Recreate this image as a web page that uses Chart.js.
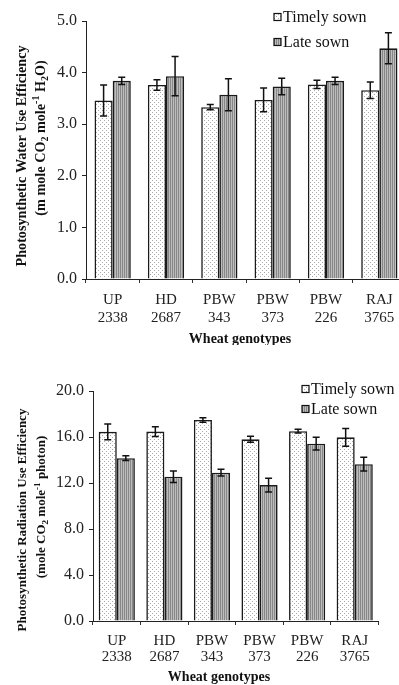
<!DOCTYPE html>
<html>
<head>
<meta charset="utf-8">
<script src="https://cdn.jsdelivr.net/npm/chart.js@4.4.0/dist/chart.umd.min.js"></script>
<style>
html, body { margin:0; padding:0; background:#fff; overflow:hidden; width:399px; height:685px; }
#c1 { position:absolute; left:0; top:0; }
#c2 { position:absolute; left:0; top:345px; }
</style>
</head>
<body>
<canvas id="c1" width="410" height="345"></canvas>
<canvas id="c2" width="399" height="340"></canvas>
<script>
// data
const genotypes = [['UP', '2338'], ['HD', '2687'], ['PBW', '343'], ['PBW', '373'], ['PBW', '226'], ['RAJ', '3765']];
const seriesNames = ['Timely sown', 'Late sown'];

// water use efficiency
const wueTimely = [3.46, 3.76, 3.33, 3.47, 3.77, 3.66];
const wueLate = [3.84, 3.93, 3.57, 3.73, 3.84, 4.47];
const wueTimelyErr = [0.30, 0.10, 0.05, 0.23, 0.08, 0.16];
const wueLateErr = [0.07, 0.38, 0.31, 0.16, 0.07, 0.30];

// radiation use efficiency
const rueTimely = [16.45, 16.47, 17.48, 15.80, 16.51, 15.97];
const rueLate = [14.16, 12.55, 12.90, 11.82, 15.42, 13.64];
const rueTimelyErr = [0.68, 0.43, 0.20, 0.26, 0.16, 0.78];
const rueLateErr = [0.20, 0.50, 0.30, 0.60, 0.56, 0.60];

const serif = "'Liberation Serif', 'Times New Roman', serif";

// fill patterns: dotted white and striped gray
const tmp = document.createElement('canvas').getContext('2d');
function dotPattern() {
    const c = document.createElement('canvas');
    c.width = 4; c.height = 4;
    const g = c.getContext('2d');
    g.fillStyle = '#ffffff'; g.fillRect(0, 0, 4, 4);
    g.fillStyle = '#a8a8a8';
    g.fillRect(0, 0, 1, 1); g.fillRect(2, 2, 1, 1);
    return tmp.createPattern(c, 'repeat');
}
function stripePattern() {
    const c = document.createElement('canvas');
    c.width = 2; c.height = 2;
    const g = c.getContext('2d');
    g.fillStyle = '#bdbdbd'; g.fillRect(0, 0, 2, 2);
    g.fillStyle = '#878787'; g.fillRect(0, 0, 1, 2);
    return tmp.createPattern(c, 'repeat');
}
const dotPat = dotPattern();
const stripePat = stripePattern();

// ===========================
// Error bars
// ===========================
const errorBars = {
    id: 'errorBars',
    afterDatasetsDraw(chart) {
        const ctx = chart.ctx, y = chart.scales.y;
        ctx.save();
        ctx.strokeStyle = '#111';
        ctx.lineWidth = 1.5;
        chart.data.datasets.forEach((ds, i) => {
            chart.getDatasetMeta(i).data.forEach((bar, j) => {
                const top = y.getPixelForValue(ds.data[j] + ds.errors[j]);
                const bot = y.getPixelForValue(ds.data[j] - ds.errors[j]);
                ctx.beginPath();
                ctx.moveTo(bar.x, top); ctx.lineTo(bar.x, bot);
                ctx.moveTo(bar.x - 3.5, top); ctx.lineTo(bar.x + 3.5, top);
                ctx.moveTo(bar.x - 3.5, bot); ctx.lineTo(bar.x + 3.5, bot);
                ctx.stroke();
            });
        });
        ctx.restore();
    }
};

// ===========================
// Titles + legend (rich text with sub/superscripts)
// ===========================
function drawRich(ctx, parts, cx, cy, size, rotate) {
    ctx.save();
    ctx.translate(cx, cy);
    if (rotate) ctx.rotate(-Math.PI / 2);
    ctx.fillStyle = '#111';
    ctx.textBaseline = 'middle';
    ctx.textAlign = 'left';
    let total = 0;
    parts.forEach(p => {
        ctx.font = 'bold ' + (p.s ? size * 0.7 : size) + 'px ' + serif;
        p.w = ctx.measureText(p.t).width;
        total += p.w;
    });
    let x = -total / 2;
    parts.forEach(p => {
        ctx.font = 'bold ' + (p.s ? size * 0.7 : size) + 'px ' + serif;
        const dy = p.s === 'sub' ? size * 0.3 : p.s === 'sup' ? -size * 0.35 : 0;
        ctx.fillText(p.t, x, dy);
        x += p.w;
    });
    ctx.restore();
}

const annot = {
    id: 'annot',
    afterDraw(chart, args, o) {
        const ctx = chart.ctx;
        drawRich(ctx, [{ t: o.yTitle1 }], o.t1x, o.t1y, o.tSize, true);
        drawRich(ctx, o.yTitle2, o.t2x, o.t2y, o.tSize, true);
        drawRich(ctx, [{ t: 'Wheat genotypes' }], o.xtx, o.xty, 14, false);

        // legend
        const fills = [dotPat, stripePat];
        ctx.save();
        ctx.font = '16px ' + serif;
        ctx.textBaseline = 'middle';
        ctx.fillStyle = '#111';
        seriesNames.forEach((name, i) => {
            const ly = o.ly + i * o.lgap;
            ctx.fillStyle = fills[i];
            ctx.fillRect(o.lx, ly - 3.5, 7, 7);
            ctx.strokeStyle = '#111';
            ctx.lineWidth = 1.2;
            ctx.strokeRect(o.lx, ly - 3.5, 7, 7);
            ctx.fillStyle = '#111';
            ctx.fillText(name, o.lx + 9, ly + 1);
        });
        ctx.restore();
    }
};

// ===========================
// Chart builder
// ===========================
function makeChart(id, timely, late, tErr, lErr, cfg) {
    return new Chart(document.getElementById(id), {
        type: 'bar',
        data: {
            labels: genotypes,
            datasets: [
                { label: seriesNames[0], data: timely, errors: tErr, backgroundColor: dotPat, borderColor: '#1a1a1a', borderWidth: 1.6 },
                { label: seriesNames[1], data: late, errors: lErr, backgroundColor: stripePat, borderColor: '#1a1a1a', borderWidth: 1.6 }
            ]
        },
        options: {
            responsive: false,
            animation: false,
            layout: { padding: { top: cfg.top, right: cfg.right, left: 0, bottom: 0 } },
            datasets: { bar: { categoryPercentage: cfg.catPct, barPercentage: 1 } },
            plugins: { legend: { display: false }, tooltip: { enabled: false }, annot: cfg },
            scales: {
                x: {
                    grid: { drawOnChartArea: false, tickLength: 4, color: '#333' },
                    border: { color: '#222', width: 1 },
                    ticks: { font: { family: serif, size: 15, lineHeight: cfg.xLine }, color: '#222', padding: cfg.xPad, maxRotation: 0, autoSkip: false },
                    afterFit(s) { s.height = cfg.xH; }
                },
                y: {
                    min: 0, max: cfg.max,
                    grid: { drawOnChartArea: false, tickLength: 4, color: '#222' },
                    border: { color: '#222', width: 1 },
                    ticks: { stepSize: cfg.step, callback: v => v.toFixed(1), font: { family: serif, size: 16 }, color: '#222', padding: 5 },
                    afterFit(s) { s.width = cfg.yW; }
                }
            }
        },
        plugins: [errorBars, annot]
    });
}

makeChart('c1', wueTimely, wueLate, wueTimelyErr, wueLateErr, {
    top: 21, right: 4, yW: 86, xH: 66, catPct: 0.68, max: 5, step: 1, xLine: 1.2, xPad: 8,
    yTitle1: 'Photosynthetic Water Use Efficiency',
    yTitle2: [{ t: '(m mole CO' }, { t: '2', s: 'sub' }, { t: ' mole' }, { t: '-1', s: 'sup' }, { t: ' H' }, { t: '2', s: 'sub' }, { t: 'O)' }],
    tSize: 14.2, t1x: 22, t1y: 156, t2x: 41, t2y: 138,
    xtx: 240, xty: 339,
    lx: 274, ly: 17, lgap: 25
});

makeChart('c2', rueTimely, rueLate, rueTimelyErr, rueLateErr, {
    top: 46, right: 20.5, yW: 93, xH: 64, catPct: 0.76, max: 20, step: 4, xLine: 1.05, xPad: 8,
    yTitle1: 'Photosynthetic Radiation Use Efficiency',
    yTitle2: [{ t: '(mole CO' }, { t: '2', s: 'sub' }, { t: ' mole' }, { t: '-1', s: 'sup' }, { t: ' photon)' }],
    tSize: 13, t1x: 23, t1y: 175, t2x: 42, t2y: 162,
    xtx: 219, xty: 332,
    lx: 302, ly: 44, lgap: 20
});
</script>
</body>
</html>
